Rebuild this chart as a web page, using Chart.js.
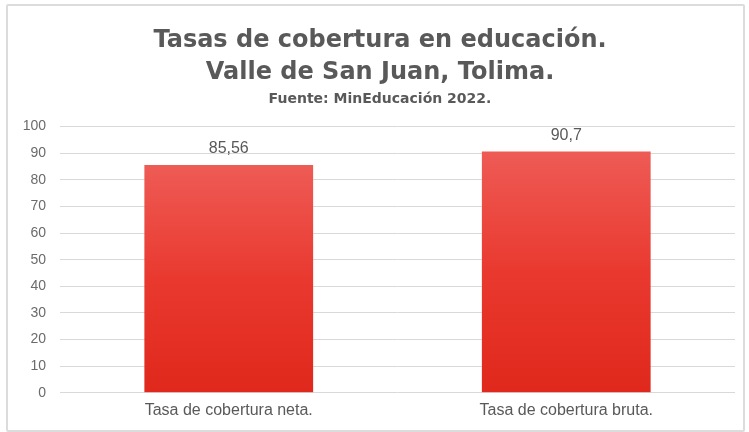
<!DOCTYPE html>
<html lang="es">
<head>
  <meta charset="UTF-8">
  <title>Tasas de cobertura en educación</title>
  <script src="https://cdn.jsdelivr.net/npm/chart.js"></script>
  <style>
    html, body { margin: 0; padding: 0; background: #fff; }
    body { width: 749px; height: 432px; position: relative; overflow: hidden; }
    /* marco gris del gráfico */
    .frame {
      position: absolute; left: 6px; top: 4px; width: 735px; height: 424px;
      border: 2px solid #dcdcdc; border-radius: 2px;
    }
    #wrap { position: absolute; left: 0; top: 0; width: 749px; height: 432px; }
  </style>
</head>
<body>
  <div class="frame"></div>
  <div id="wrap"><canvas id="chart"></canvas></div>

  <script>
    // Datos
    const categories = ['Tasa de cobertura neta.', 'Tasa de cobertura bruta.'];
    const coverage = [85.56, 90.7];
    const yTicks = [0, 10, 20, 30, 40, 50, 60, 70, 80, 90, 100];

    // Degradado vertical por barra (más claro arriba)
    function barGradient(ctx) {
      const chart = ctx.chart;
      const area = chart.chartArea;
      const y = chart.scales && chart.scales.y;
      if (!area || !y || ctx.raw == null) return '#e63a2e';
      const top = y.getPixelForValue(ctx.raw);
      const bottom = y.getPixelForValue(0);
      const g = chart.ctx.createLinearGradient(0, top, 0, bottom);
      g.addColorStop(0, '#ee5b55');
      g.addColorStop(0.5, '#e9392f');
      g.addColorStop(1, '#e0281c');
      return g;
    }

    // Etiquetas de valor sobre las barras
    const valueLabels = {
      id: 'valueLabels',
      afterDatasetsDraw(chart) {
        const ctx = chart.ctx;
        const meta = chart.getDatasetMeta(0);
        ctx.save();
        ctx.font = '16px "Liberation Sans", Arial, sans-serif';
        ctx.fillStyle = '#595959';
        ctx.textAlign = 'center';
        ctx.textBaseline = 'middle';
        meta.data.forEach((bar, i) => {
          const txt = String(coverage[i]).replace('.', ',');
          ctx.fillText(txt, bar.x, bar.y - 16);
        });
        ctx.restore();
      }
    };

    new Chart(document.getElementById('chart'), {
      type: 'bar',
      data: {
        labels: categories,
        datasets: [{
          data: coverage,
          backgroundColor: barGradient,
          borderWidth: 0,
          barPercentage: 0.5,
          categoryPercentage: 1
        }]
      },
      options: {
        responsive: true,
        maintainAspectRatio: false,
        animation: false,
        layout: { padding: { left: 11, right: 0, top: 0, bottom: 4 } },
        plugins: {
          legend: { display: false },
          tooltip: { enabled: false },
          title: {
            display: true,
            text: ['Tasas de cobertura en educación.', 'Valle de San Juan, Tolima.'],
            color: '#595959',
            font: { family: '"DejaVu Sans", sans-serif', size: 24, weight: 'bold', lineHeight: 1.33 },
            padding: { top: 25, bottom: 2 }
          },
          subtitle: {
            display: true,
            text: 'Fuente: MinEducación 2022.',
            color: '#595959',
            font: { family: '"DejaVu Sans", sans-serif', size: 14, weight: 'bold', lineHeight: 1.2 },
            padding: { top: 0, bottom: 19 }
          }
        },
        scales: {
          x: {
            grid: { display: false, drawTicks: false },
            border: { display: false },
            ticks: {
              color: '#595959',
              padding: 8,
              font: { family: '"Liberation Sans", Arial, sans-serif', size: 16 }
            }
          },
          y: {
            min: 0,
            max: 100,
            afterFit(scale) { scale.width = 49; },
            afterBuildTicks(scale) { scale.ticks = yTicks.map(v => ({ value: v })); },
            grid: { color: '#d9d9d9', lineWidth: 1, drawTicks: false },
            border: { display: false },
            ticks: {
              color: '#6b6b6b',
              padding: 14,
              font: { family: '"Liberation Sans", Arial, sans-serif', size: 14 }
            }
          },
          // eje vacío a la derecha, sólo para dejar margen
          yRight: {
            position: 'right',
            min: 0,
            max: 100,
            afterFit(scale) { scale.width = 14; },
            grid: { display: false, drawTicks: false },
            border: { display: false },
            ticks: { display: false }
          }
        }
      },
      plugins: [valueLabels]
    });
  </script>
</body>
</html>
